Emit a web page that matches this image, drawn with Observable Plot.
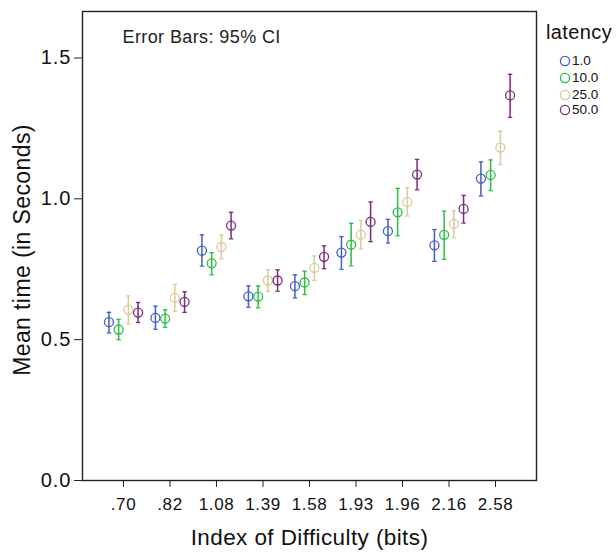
<!DOCTYPE html>
<html>
<head>
<meta charset="utf-8">
<script src="https://cdn.jsdelivr.net/npm/d3@7"></script>
<script src="https://cdn.jsdelivr.net/npm/@observablehq/plot@0.6"></script>
<style>
  html, body { margin: 0; padding: 0; background: #fff; }
  #wrap { position: relative; width: 616px; height: 553px; font-family: "Liberation Sans", Arial, sans-serif; }
  #legend { position: absolute; left: 546px; top: 22px; color: #111; }
  #legend .title { font-size: 20px; line-height: 20px; letter-spacing: 0.4px; }
  #legend .item { position: absolute; left: 13px; height: 13px; font-size: 13.5px; line-height: 13px; white-space: nowrap; }
  #legend svg { vertical-align: middle; margin-right: 1px; }
</style>
</head>
<body>
<div id="wrap"><div id="chart"></div><div id="legend"></div></div>
<script>
// Categories (Index of Difficulty, bits)
const idLabels = [".70", ".82", "1.08", "1.39", "1.58", "1.93", "1.96", "2.16", "2.58"];
// Series (latency)
const latencies = ["1.0", "10.0", "25.0", "50.0"];
const latencyColors = ["#3f5fc0", "#2bbf48", "#d6cd98", "#7c2a7b"];

// Mean time (s) and 95% CI bounds, one array per latency, in idLabels order
const mean_1  = [0.562, 0.577, 0.816, 0.654, 0.690, 0.809, 0.885, 0.835, 1.072];
const low_1   = [0.524, 0.537, 0.761, 0.615, 0.648, 0.750, 0.843, 0.778, 1.010];
const high_1  = [0.597, 0.619, 0.872, 0.691, 0.730, 0.866, 0.927, 0.891, 1.131];

const mean_10 = [0.536, 0.575, 0.771, 0.653, 0.703, 0.837, 0.952, 0.872, 1.085];
const low_10  = [0.500, 0.544, 0.730, 0.613, 0.660, 0.762, 0.869, 0.785, 1.029];
const high_10 = [0.572, 0.606, 0.809, 0.691, 0.743, 0.913, 1.037, 0.956, 1.138];

const mean_25 = [0.606, 0.648, 0.829, 0.710, 0.755, 0.873, 0.988, 0.911, 1.182];
const low_25  = [0.556, 0.600, 0.787, 0.671, 0.710, 0.822, 0.939, 0.862, 1.122];
const high_25 = [0.655, 0.696, 0.872, 0.748, 0.797, 0.923, 1.039, 0.958, 1.240];

const mean_50 = [0.596, 0.634, 0.905, 0.710, 0.794, 0.918, 1.086, 0.964, 1.367];
const low_50  = [0.561, 0.597, 0.858, 0.672, 0.752, 0.848, 1.032, 0.914, 1.289];
const high_50 = [0.632, 0.670, 0.952, 0.748, 0.833, 0.989, 1.140, 1.012, 1.442];

const yTicks = [0, 0.5, 1.0, 1.5];

const series = [
  {lat: latencies[0], mean: mean_1,  low: low_1,  high: high_1},
  {lat: latencies[1], mean: mean_10, low: low_10, high: high_10},
  {lat: latencies[2], mean: mean_25, low: low_25, high: high_25},
  {lat: latencies[3], mean: mean_50, low: low_50, high: high_50}
];

// clustered position: group index + dodge within group
const dodge = 0.209;
const rows = [];
series.forEach((s, j) => {
  idLabels.forEach((lab, i) => {
    rows.push({pos: i + (j - 1.5) * dodge, id: lab, latency: s.lat, mean: s.mean[i], low: s.low[i], high: s.high[i]});
  });
});

const capSymbol = {
  draw(ctx) { ctx.moveTo(-2.2, 0); ctx.lineTo(2.2, 0); }
};

const font = "'Liberation Sans', Arial, sans-serif";

const chart = Plot.plot({
  width: 616,
  height: 553,
  marginLeft: 82,
  marginRight: 80,
  marginTop: 11,
  marginBottom: 73,
  style: {fontFamily: font, background: "#fff", color: "#111"},
  x: {domain: [-0.8817, 8.8817], axis: null},
  y: {domain: [0, 1.665], axis: null},
  color: {domain: latencies, range: latencyColors},
  marks: [
    Plot.axisY({ticks: yTicks, tickFormat: d3.format(".1f"), tickSize: 8, tickPadding: 3, fontSize: 20, label: null, stroke: "#222"}),
    Plot.axisX({ticks: d3.range(idLabels.length), tickFormat: i => idLabels[i], tickSize: 7, tickPadding: 10, fontSize: 17, label: null, stroke: "#222"}),
    Plot.frame({stroke: "#222", strokeWidth: 1.4}),
    Plot.ruleX(rows, {x: "pos", y1: "low", y2: "high", stroke: "latency", strokeWidth: 1.5}),
    Plot.dot(rows, {x: "pos", y: "low", symbol: capSymbol, stroke: "latency", strokeWidth: 1.3, r: 3}),
    Plot.dot(rows, {x: "pos", y: "high", symbol: capSymbol, stroke: "latency", strokeWidth: 1.3, r: 3}),
    Plot.dot(rows, {x: "pos", y: "mean", r: 4.5, stroke: "latency", fill: "none", strokeWidth: 1.3}),
    Plot.text(["Error Bars: 95% CI"], {frameAnchor: "top-left", dx: 40, dy: 31.5, lineAnchor: "bottom", textAnchor: "start", fontSize: 18, fill: "#222"}),
    Plot.text(["Index of Difficulty (bits)"], {frameAnchor: "bottom", dy: 64, lineAnchor: "bottom", textAnchor: "middle", fontSize: 22.5, fill: "#111"}),
    Plot.text(["Mean time (in Seconds)"], {frameAnchor: "left", dx: -53, dy: 4, rotate: -90, lineAnchor: "bottom", textAnchor: "middle", fontSize: 23, fill: "#111"})
  ]
});
document.getElementById("chart").appendChild(chart);

// letter spacing tweaks for wider-looking labels
d3.select(chart).selectAll('g[aria-label="x-axis tick label"] text').style("letter-spacing", "0.6px");
d3.select(chart).selectAll('g[aria-label="y-axis tick label"] text').style("letter-spacing", "1px");
d3.select(chart).selectAll('g[aria-label="text"] text').style("letter-spacing", "0.4px");

// Legend
const legend = d3.select("#legend");
legend.append("div").attr("class", "title").text("latency");
const itemY = [32, 49, 65.5, 81];
latencies.forEach((lat, k) => {
  const it = legend.append("div").attr("class", "item").style("top", itemY[k] + "px");
  const s = it.append("svg").attr("width", 12).attr("height", 12);
  s.append("circle").attr("cx", 6).attr("cy", 6).attr("r", 4.6).attr("fill", "none").attr("stroke", latencyColors[k]).attr("stroke-width", 1.3);
  it.append("span").text(lat);
});
</script>
</body>
</html>
